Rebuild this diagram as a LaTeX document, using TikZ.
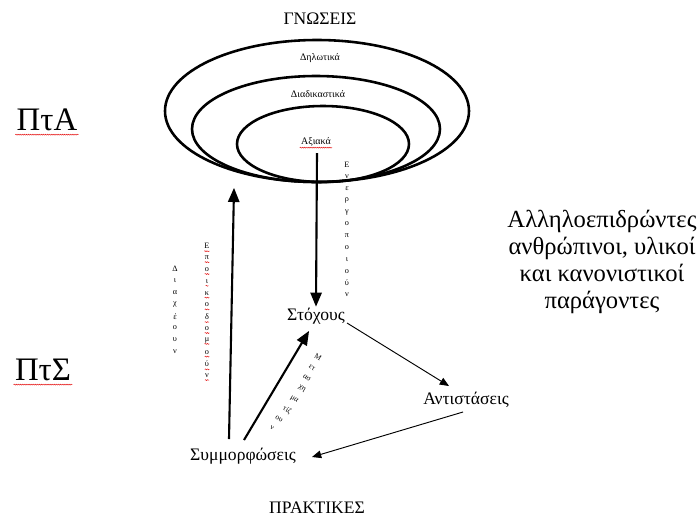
\documentclass[tikz,border=0pt]{standalone}
\usepackage{fontspec}
\setmainfont{Liberation Serif}
\usetikzlibrary{arrows,calc,decorations.pathmorphing}
\definecolor{SpellClr}{rgb}{0.9,0.1,0.1}

\begin{document}
\begin{tikzpicture}[x=0.03cm,y=-0.03cm,
  ring/.style={line width=2.2pt},
  bigarrow/.style={line width=1.8pt,-triangle 45},
  thinarrow/.style={line width=0.8pt,-triangle 45},
  word/.style={font=\fontsize{15}{18}\selectfont,inner sep=1pt},
  small/.style={font=\fontsize{8.5}{10}\selectfont,inner sep=1pt},
  letter/.style={font=\fontsize{7}{8}\selectfont,inner sep=0pt},
  squiggle/.style={SpellClr,line width=.45pt,decorate,
    decoration={snake,amplitude=.4pt,segment length=1.8pt}}]
\useasboundingbox (0,0) rectangle (699,521);

\draw[ring] (317,111) ellipse (152 and 71);
\draw[ring] (316,129) ellipse (124 and 53);
\draw[ring] (323,144) ellipse (86 and 38);

\node[word] (gnoseis) at (320,19) {ΓΝΩΣΕΙΣ};
\node[small] (dilotika) at (320,58) {Δηλωτικά};
\node[small] (diadik) at (318,94) {Διαδικαστικά};
\node[small] (axiaka) at (316,142) {Αξιακά};

\node[font=\fontsize{28}{32}\selectfont,inner sep=1pt] (ptA) at (47,120) {ΠτΑ};
\node[font=\fontsize{28}{32}\selectfont,inner sep=1pt] (ptS) at (43,370) {ΠτΣ};

\node[word] (stoxoi) at (316,316) {Στόχους};
\node[word] (antist) at (466,400) {Αντιστάσεις};
\node[word] (symm) at (243,456) {Συμμορφώσεις};
\node[word] (praktikes) at (317,508) {ΠΡΑΚΤΙΚΕΣ};

\node[font=\fontsize{21}{23}\selectfont,align=center,inner sep=0pt] (paragontes) at (602,262)
  {Αλληλοεπιδρώντες\\ανθρώπινοι, υλικοί\\και κανονιστικοί\\παράγοντες};

\coordinate (valTop) at (317,153);
\coordinate (knowBase) at (234,188);
\coordinate (symmUp) at (229,439);
\coordinate (symmDiag) at (244,440);
\coordinate (stoxoiFoot) at (309,331);
\coordinate (stoxoiOut) at (347,323);
\coordinate (antistIn) at (449,386);
\coordinate (antistOut) at (463,412);
\coordinate (symmIn) at (312,457);

\draw[bigarrow] (valTop) -- (stoxoi.north);
\draw[bigarrow] (symmUp) -- (knowBase);
\draw[bigarrow] (symmDiag) -- (stoxoiFoot);
\draw[thinarrow] (stoxoiOut) -- (antistIn);
\draw[thinarrow] (antistOut) -- (symmIn);

\foreach \ch [count=\i] in {Ε,ν,ε,ρ,γ,ο,π,ο,ι,ο,ύ,ν}
  \node[letter] (energ\i) at (347,{165+11.8*(\i-1)}) {\ch};
\foreach \ch [count=\i] in {Δ,ι,α,χ,έ,ο,υ,ν}
  \node[letter] (diax\i) at (175,{269+11.8*(\i-1)}) {\ch};
\foreach \ch [count=\i] in {Ε,π,ο,ι,κ,ο,δ,ο,μ,ο,ύ,ν}{
  \node[letter] (epoik\i) at (207,{246+11.8*(\i-1)}) {\ch};
  \draw[squiggle] ($(epoik\i.base west)+(0,2.5)$) -- ($(epoik\i.base east)+(0,2.5)$);
}
\foreach \ch/\px/\py [count=\i] in {Μ/318/357,ετ/312/368,ασ/307/378,χη/302/389,
    μα/294/400,τίζ/287/410,ου/279/419,ν/272/428}
  \node[letter,font=\fontsize{6.5}{7}\selectfont,rotate=-31] (metasx\i) at (\px,\py) {\ch};

\draw[squiggle] ($(ptA.base west)+(0,4)$) -- ($(ptA.base east)+(0,4)$);
\draw[squiggle] ($(ptS.base west)+(0,4)$) -- ($(ptS.base east)+(0,4)$);
\draw[squiggle] ($(axiaka.base west)+(0,3)$) -- ($(axiaka.base east)+(0,3)$);

\end{tikzpicture}
\end{document}
